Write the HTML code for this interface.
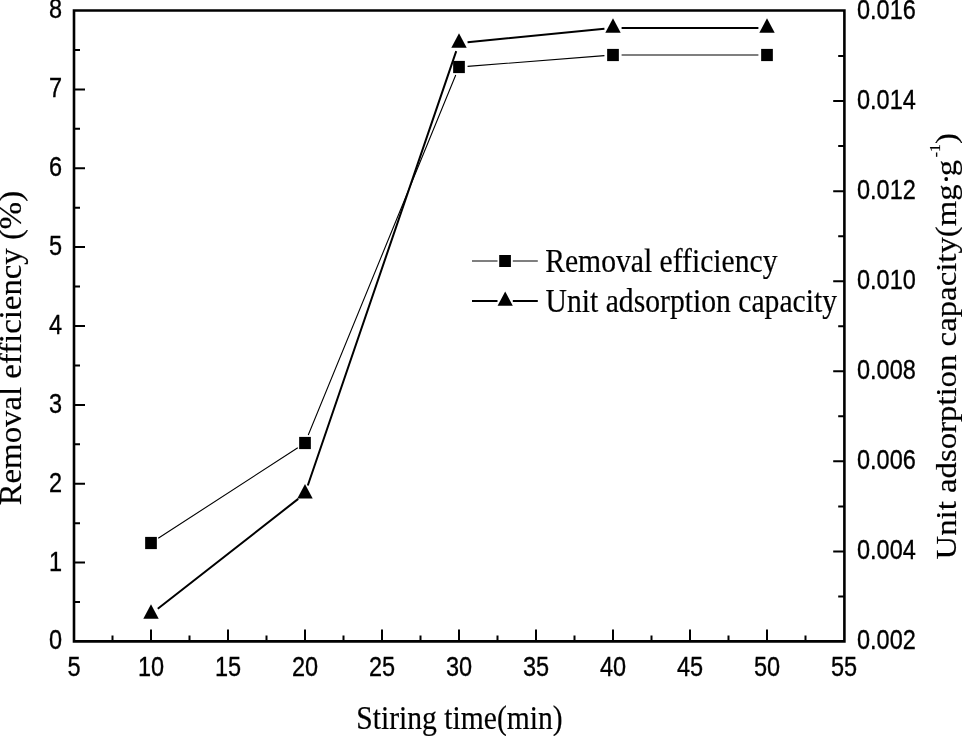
<!DOCTYPE html><html><head><meta charset="utf-8"><style>html,body{margin:0;padding:0;background:#fff;overflow:hidden}svg{display:block;will-change:transform}.s{font-family:"Liberation Sans",sans-serif;font-size:27.5px;stroke:#000;stroke-width:0.35px}.r{font-family:"Liberation Serif",serif;stroke:#000;stroke-width:0.2px}</style></head><body>
<svg width="962" height="736" viewBox="0 0 962 736">
<rect width="962" height="736" fill="#fff"/>
<path stroke="#000" stroke-width="2.6" fill="none" stroke-linecap="square" d="M74 10.5 H844.4 V641.4 H74 Z"/>
<path stroke="#000" stroke-width="2" fill="none" d="M112.50 641.5 V635.5 M151.00 641.5 V629.5 M189.50 641.5 V635.5 M228.00 641.5 V629.5 M266.50 641.5 V635.5 M305.00 641.5 V629.5 M343.50 641.5 V635.5 M382.00 641.5 V629.5 M420.50 641.5 V635.5 M459.00 641.5 V629.5 M497.50 641.5 V635.5 M536.00 641.5 V629.5 M574.50 641.5 V635.5 M613.00 641.5 V629.5 M651.50 641.5 V635.5 M690.00 641.5 V629.5 M728.50 641.5 V635.5 M767.00 641.5 V629.5 M805.50 641.5 V635.5 M74 602.06 H80 M74 562.62 H85 M74 523.19 H80 M74 483.75 H85 M74 444.31 H80 M74 404.88 H85 M74 365.44 H80 M74 326.00 H85 M74 286.56 H80 M74 247.12 H85 M74 207.69 H80 M74 168.25 H85 M74 128.81 H80 M74 89.38 H85 M74 49.94 H80 M844.2 596.47 H838.2 M844.2 551.43 H833.2 M844.2 506.39 H838.2 M844.2 461.36 H833.2 M844.2 416.33 H838.2 M844.2 371.29 H833.2 M844.2 326.25 H838.2 M844.2 281.22 H833.2 M844.2 236.19 H838.2 M844.2 191.15 H833.2 M844.2 146.12 H838.2 M844.2 101.08 H833.2 M844.2 56.05 H838.2"/>
<text class="s" transform="translate(62.00,649.40) scale(0.855,1)" text-anchor="end">0</text>
<text class="s" transform="translate(62.00,570.52) scale(0.855,1)" text-anchor="end">1</text>
<text class="s" transform="translate(62.00,491.65) scale(0.855,1)" text-anchor="end">2</text>
<text class="s" transform="translate(62.00,412.77) scale(0.855,1)" text-anchor="end">3</text>
<text class="s" transform="translate(62.00,333.90) scale(0.855,1)" text-anchor="end">4</text>
<text class="s" transform="translate(62.00,255.03) scale(0.855,1)" text-anchor="end">5</text>
<text class="s" transform="translate(62.00,176.15) scale(0.855,1)" text-anchor="end">6</text>
<text class="s" transform="translate(62.00,97.28) scale(0.855,1)" text-anchor="end">7</text>
<text class="s" transform="translate(62.00,18.40) scale(0.855,1)" text-anchor="end">8</text>
<text class="s" transform="translate(74.00,676.10) scale(0.855,1)" text-anchor="middle">5</text>
<text class="s" transform="translate(151.00,676.10) scale(0.855,1)" text-anchor="middle">10</text>
<text class="s" transform="translate(228.00,676.10) scale(0.855,1)" text-anchor="middle">15</text>
<text class="s" transform="translate(305.00,676.10) scale(0.855,1)" text-anchor="middle">20</text>
<text class="s" transform="translate(382.00,676.10) scale(0.855,1)" text-anchor="middle">25</text>
<text class="s" transform="translate(459.00,676.10) scale(0.855,1)" text-anchor="middle">30</text>
<text class="s" transform="translate(536.00,676.10) scale(0.855,1)" text-anchor="middle">35</text>
<text class="s" transform="translate(613.00,676.10) scale(0.855,1)" text-anchor="middle">40</text>
<text class="s" transform="translate(690.00,676.10) scale(0.855,1)" text-anchor="middle">45</text>
<text class="s" transform="translate(767.00,676.10) scale(0.855,1)" text-anchor="middle">50</text>
<text class="s" transform="translate(844.00,676.10) scale(0.855,1)" text-anchor="middle">55</text>
<text class="s" transform="translate(857.00,649.40) scale(0.855,1)" text-anchor="start">0.002</text>
<text class="s" transform="translate(857.00,559.33) scale(0.855,1)" text-anchor="start">0.004</text>
<text class="s" transform="translate(857.00,469.26) scale(0.855,1)" text-anchor="start">0.006</text>
<text class="s" transform="translate(857.00,379.19) scale(0.855,1)" text-anchor="start">0.008</text>
<text class="s" transform="translate(857.00,289.12) scale(0.855,1)" text-anchor="start">0.010</text>
<text class="s" transform="translate(857.00,199.05) scale(0.855,1)" text-anchor="start">0.012</text>
<text class="s" transform="translate(857.00,108.98) scale(0.855,1)" text-anchor="start">0.014</text>
<text class="s" transform="translate(857.00,18.91) scale(0.855,1)" text-anchor="start">0.016</text>
<path stroke="#000" stroke-width="1.1" fill="none" d="M158.21 538.32 L297.79 447.68 M308.26 435.04 L455.74 74.96 M467.57 66.33 L604.43 55.67 M621.60 55.00 L758.40 55.00"/>
<path stroke="#000" stroke-width="2" fill="none" d="M157.78 608.70 L298.22 498.90 M307.78 485.46 L456.22 51.14 M467.56 42.17 L604.44 28.83 M621.60 28.00 L758.40 28.00"/>
<rect x="145.15" y="536.90" width="11.7" height="12.2" fill="#000"/>
<rect x="299.15" y="436.90" width="11.7" height="12.2" fill="#000"/>
<rect x="453.15" y="60.90" width="11.7" height="12.2" fill="#000"/>
<rect x="607.15" y="48.90" width="11.7" height="12.2" fill="#000"/>
<rect x="761.15" y="48.90" width="11.7" height="12.2" fill="#000"/>
<path fill="#000" d="M151.00 604.33 L158.70 618.83 L143.30 618.83 Z"/>
<path fill="#000" d="M305.00 483.93 L312.70 498.43 L297.30 498.43 Z"/>
<path fill="#000" d="M459.00 33.33 L466.70 47.83 L451.30 47.83 Z"/>
<path fill="#000" d="M613.00 18.33 L620.70 32.83 L605.30 32.83 Z"/>
<path fill="#000" d="M767.00 18.33 L774.70 32.83 L759.30 32.83 Z"/>
<path stroke="#000" stroke-width="1.1" fill="none" d="M472 261 H497.5 M512.8 261 H537.8"/>
<rect x="499.2" y="255" width="11.7" height="12" fill="#000"/>
<path stroke="#000" stroke-width="2" fill="none" d="M472 301 H497.5 M512.8 301 H537.8"/>
<path fill="#000" d="M505.2 291.6 L512.8 305.8 L497.6 305.8 Z"/>
<text class="r" font-size="33.5" transform="translate(545.15,272.1) scale(0.885,1)">Removal efficiency</text>
<text class="r" font-size="33.5" transform="translate(545.6,312) scale(0.885,1)">Unit adsorption capacity</text>
<text class="r" font-size="33.2" transform="translate(356.3,728.7) scale(0.892,1)">Stiring time(min)</text>
<text class="r" font-size="32.8" transform="translate(21.0,505.3) rotate(-90) scale(1,0.96)">Removal efficiency (%)</text>
<text class="r" font-size="32.8" transform="translate(956.0,559.5) rotate(-90) scale(1,0.913)">Unit adsorption capacity(mg<tspan>&#183;</tspan><tspan dx="-2.8">g</tspan><tspan dx="2.5" dy="-17.8" font-size="16">-1</tspan><tspan dy="17.8">)</tspan></text>
</svg></body></html>
